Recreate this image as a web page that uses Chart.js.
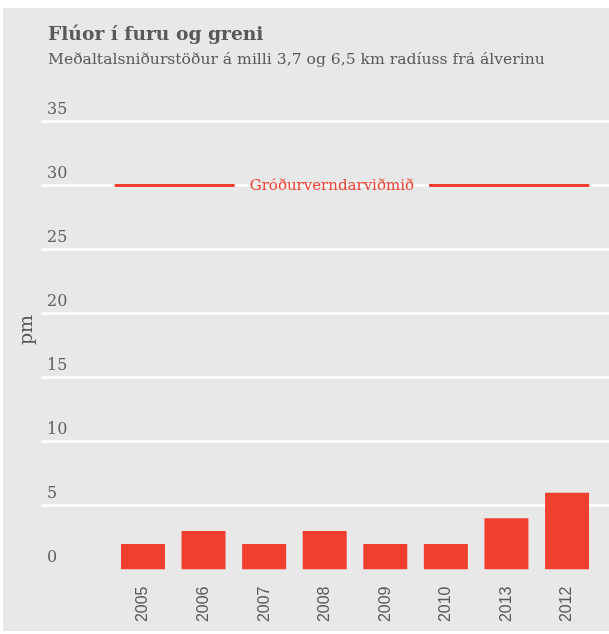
<!DOCTYPE html>
<html>
<head>
<meta charset="utf-8">
<script src="https://cdn.jsdelivr.net/npm/chart.js@4.4.1/dist/chart.umd.min.js"></script>
<style>
  html, body { margin: 0; padding: 0; background: #fff; }
  #wrap { width: 609px; height: 634px; }
</style>
</head>
<body>
<div id="wrap"><canvas id="myChart" width="609" height="634"></canvas></div>
<script>
var years = ["2005", "2006", "2007", "2008", "2009", "2010", "2013", "2012"];
var fluor = [2, 3, 2, 3, 2, 2, 4, 6];
var yTicks = [0, 5, 10, 15, 20, 25, 30, 35];
var limitValue = 30;
var limitLabel = "Gróðurverndarviðmið";
var titleText = "Flúor í furu og greni";
var subtitleText = "Meðaltalsniðurstöður á milli 3,7 og 6,5 km radíuss frá álverinu";
var axisTitle = "pm";

var grey = '#595959';
var red = '#f03f2e';
var serif = '"DejaVu Serif", serif';

// background, titles, grid and y labels
var backdrop = {
  id: 'backdrop',
  beforeDatasetsDraw: function(chart) {
    var ctx = chart.ctx;
    var y = chart.scales.y;
    ctx.save();

    ctx.fillStyle = grey;
    ctx.textAlign = 'left';
    ctx.textBaseline = 'alphabetic';
    ctx.font = 'bold 18.7px ' + serif;
    ctx.fillText(titleText, 48, 40);
    ctx.font = '15.6px ' + serif;
    ctx.fillText(subtitleText, 48, 64);

    ctx.fillStyle = '#606060';
    ctx.font = '16px ' + serif;
    yTicks.forEach(function(v) {
      var py = y.getPixelForValue(v);
      if (v > 0) {
        ctx.strokeStyle = '#fff';
        ctx.lineWidth = 2.5;
        ctx.beginPath();
        ctx.moveTo(41, py);
        ctx.lineTo(609, py);
        ctx.stroke();
      }
      ctx.fillText(String(v), 47, py - 8);
    });

    ctx.fillStyle = grey;
    ctx.translate(32, 330);
    ctx.rotate(-Math.PI / 2);
    ctx.textAlign = 'center';
    ctx.font = '19px ' + serif;
    ctx.fillText(axisTitle, 0, 0);
    ctx.restore();
  },
  afterDatasetsDraw: function(chart) {
    var ctx = chart.ctx;
    var area = chart.chartArea;
    var py = chart.scales.y.getPixelForValue(limitValue);
    ctx.save();
    ctx.font = '15px ' + serif;
    var w = ctx.measureText(limitLabel).width;
    var lx = area.left + 137;
    ctx.strokeStyle = red;
    ctx.lineWidth = 3;
    ctx.beginPath();
    ctx.moveTo(area.left + 2, py);
    ctx.lineTo(lx - 15, py);
    ctx.moveTo(lx + w + 15, py);
    ctx.lineTo(area.right - 8, py);
    ctx.stroke();
    ctx.fillStyle = red;
    ctx.textBaseline = 'middle';
    ctx.fillText(limitLabel, lx, py + 1);
    ctx.restore();
  }
};

var panel = {
  id: 'panel',
  beforeDraw: function(chart) {
    var ctx = chart.ctx;
    ctx.save();
    ctx.fillStyle = '#e8e8e8';
    ctx.fillRect(3, 8, 606, 623);
    ctx.restore();
  }
};

var ctx = document.getElementById('myChart').getContext('2d');
var chart = new Chart(ctx, {
  type: 'bar',
  data: {
    labels: years,
    datasets: [{
      data: fluor,
      backgroundColor: red,
      borderWidth: 0,
      categoryPercentage: 1,
      barPercentage: 0.726
    }]
  },
  options: {
    responsive: false,
    animation: false,
    devicePixelRatio: 1,
    layout: { padding: { left: 112.7, right: 11.7, top: 121.5, bottom: 0 } },
    plugins: {
      legend: { display: false },
      tooltip: { enabled: false }
    },
    scales: {
      x: {
        grid: { display: false, drawTicks: false },
        border: { display: false },
        ticks: {
          minRotation: 90,
          maxRotation: 90,
          autoSkip: false,
          padding: 17,
          color: grey,
          font: { family: '"Liberation Sans", Arial, sans-serif', size: 16 }
        },
        afterFit: function(scale) { scale.height = 64.5; }
      },
      y: {
        display: false,
        min: 0,
        max: 35
      }
    }
  },
  plugins: [panel, backdrop]
});
</script>
</body>
</html>
